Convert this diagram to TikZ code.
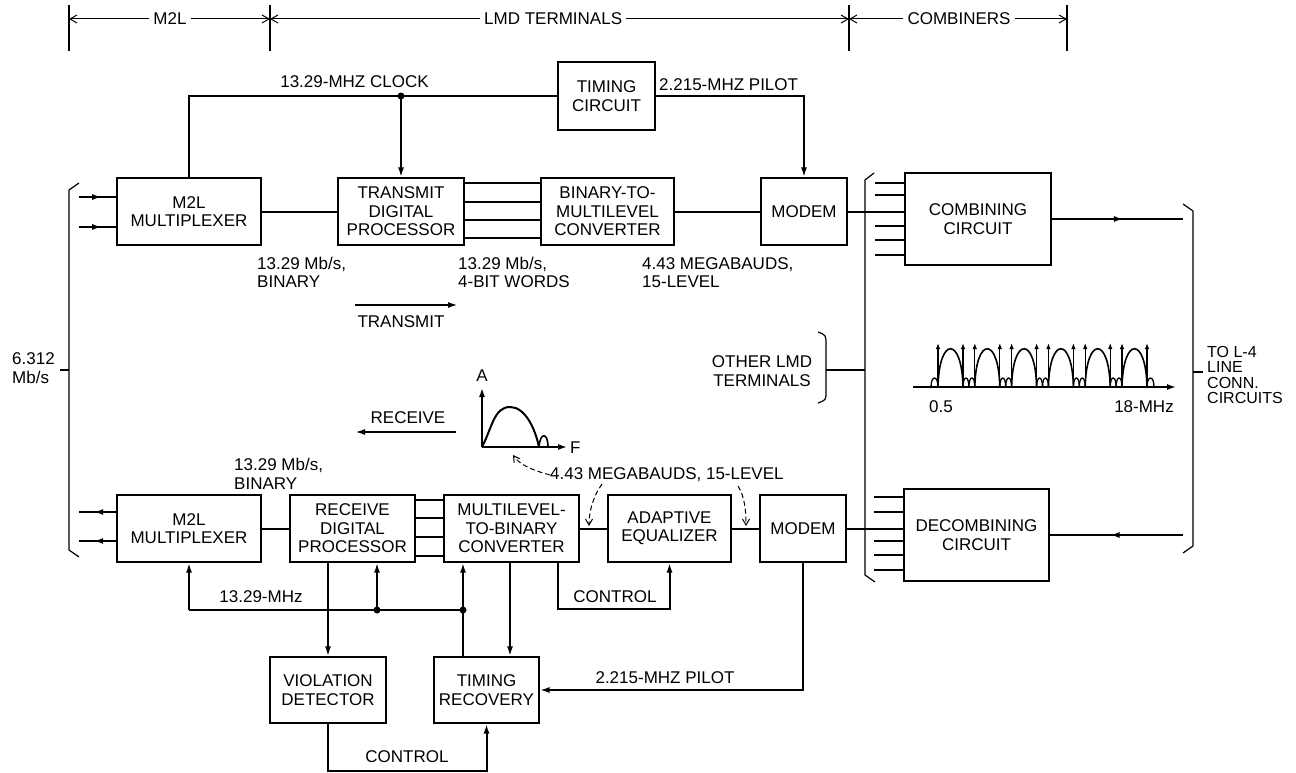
\documentclass[tikz,border=0pt]{standalone}
\usepackage{fontspec}
\setmainfont{Liberation Sans}
\usetikzlibrary{arrows.meta,decorations.markings,calc}
\begin{document}
\begin{tikzpicture}[x=1pt,y=-1pt,
  every node/.style={font=\fontsize{17}{18.5}\selectfont, inner sep=0pt},
  box/.style={draw, line width=1.2pt, align=center},
  conn/.style={line width=2pt},
  arr/.style={conn,-{Latex[length=10pt,width=6pt]}},
  thinl/.style={line width=1.2pt},
  hdr/.style={line width=1pt,-{Straight Barb[length=7pt,width=8pt]}},
  lbl/.style={align=left, anchor=west},
  dot/.style={circle, fill, inner sep=0pt, minimum size=7pt},
  midarr/.style={conn, postaction={decorate}, decoration={markings, mark=at position #1 with {\arrow{Latex[length=10pt,width=6pt]}}}},
  dasharr/.style={line width=1pt, dash pattern=on 5pt off 3pt, -{Straight Barb[length=6pt,width=7pt]}}
]
\useasboundingbox (0,0) rectangle (1296,773);

% ---------- header ----------
\coordinate (t1) at (69,19);
\coordinate (t2) at (270,19);
\coordinate (t3) at (849,19);
\coordinate (t4) at (1067,19);
\foreach \x in {69,270,849,1067} \draw[thinl] (\x,5) -- (\x,51);
\node (hm2l) at (170,19) {M2L};
\node[anchor=west] (hlmd) at (484,19) {LMD TERMINALS};
\node (hcomb) at (959,19) {COMBINERS};
\draw[hdr] ($(hm2l.west)+(-4,0)$) -- (t1);
\draw[hdr] ($(hm2l.east)+(4,0)$) -- (t2);
\draw[hdr] ($(hlmd.west)+(-4,0)$) -- (t2);
\draw[hdr] ($(hlmd.east)+(4,0)$) -- (t3);
\draw[hdr] ($(hcomb.west)+(-4,0)$) -- (t3);
\draw[hdr] ($(hcomb.east)+(4,0)$) -- (t4);

% ---------- top row ----------
\node[box, minimum width=144, minimum height=67] (m2lt) at (189,211.5) {M2L\\MULTIPLEXER};
\node[box, minimum width=126, minimum height=67] (tdp) at (401,211.5) {TRANSMIT\\DIGITAL\\PROCESSOR};
\node[box, minimum width=133, minimum height=67] (btm) at (607.5,211.5) {BINARY-TO-\\MULTILEVEL\\CONVERTER};
\node[box, minimum width=86, minimum height=67] (modt) at (804,211.5) {MODEM};
\node[box, minimum width=97, minimum height=68] (timing) at (606.5,96) {TIMING\\CIRCUIT};
\node[box, minimum width=146, minimum height=92] (comb) at (978,219) {COMBINING\\CIRCUIT};

\node (clkl) at (354.5,82) {13.29-MHZ CLOCK};
\node[anchor=west] (pilt) at (659,85) {2.215-MHZ PILOT};
\node[dot] (clk) at (tdp.north |- timing.west) {};
\draw[conn] (m2lt.north) |- (timing.west);
\draw[arr] (clk.center) -- (tdp.north);
\draw[arr] (timing.east) -| (modt.north);

\draw[conn] (m2lt) -- (tdp);
\foreach \y in {183,202,220,238} \draw[conn] (tdp.east |- 0,\y) -- (btm.west |- 0,\y);
\draw[conn] (btm) -- (modt);
\draw[conn] (modt.east) -- (modt.east -| comb.west);
\foreach \y in {183,195,226,240,255} \draw[conn] (875,\y) -- (comb.west |- 0,\y);

\coordinate (in1) at (79,197);
\coordinate (in2) at (79,227);
\draw[midarr=0.62] (in1) -- (in1 -| m2lt.west);
\draw[midarr=0.62] (in2) -- (in2 -| m2lt.west);

\node[lbl] (r1) at (257,272.5) {13.29 Mb/s,\\BINARY};
\node[lbl] (r2) at (458,272.5) {13.29 Mb/s,\\4-BIT WORDS};
\node[lbl] (r3) at (642,272.5) {4.43 MEGABAUDS,\\15-LEVEL};

\coordinate (txa) at (355,305);
\coordinate (txb) at (458,305);
\draw[arr] (txa) -- (txb);
\node (txl) at (401,322) {TRANSMIT};

\coordinate (rxa) at (456,432);
\coordinate (rxb) at (355,432);
\draw[arr] (rxa) -- (rxb);
\node (rxl) at (408,418) {RECEIVE};

% ---------- brackets ----------
\draw[thinl] (79,183) -- (69,190) -- (69,550) -- (79,557);
\draw[thinl] (60,370) -- (69,370);
\node[lbl] (rate) at (12,368) {6.312\\Mb/s};

\draw[thinl] (874,173) -- (865,180) -- (865,575) -- (875,582);
\draw[thinl] (818,332) .. controls (826,335) .. (826,345) -- (826,392) .. controls (826,400) .. (818,403);
\draw[thinl] (826,370) -- (865,370);
\node[align=center] (oth) at (762,371) {OTHER LMD\\TERMINALS};

\draw[thinl] (1183,204) -- (1193,211) -- (1193,546) -- (1183,553);
\draw[thinl] (1193,372) -- (1203,372);
\node[lbl, font=\fontsize{16}{15.5}\selectfont] (tol4) at (1207,375) {TO L-4\\LINE\\CONN.\\CIRCUITS};

\coordinate (outR) at (1183,219);
\coordinate (inR) at (1183,535);
\draw[midarr=0.55] (comb.east) -- (outR);

% ---------- line spectrum ----------
\draw[line width=1.5pt,-{Latex[length=9pt,width=6pt]}] (913,387) -- (1176,387);
\foreach \i in {0,...,5} {
  \pgfmathsetmacro\a{938+36.8*\i}
  \pgfmathsetmacro\b{\a+25}
  \draw[line width=1.6pt] (\a,387) .. controls (\a+1,336) and (\b-1,336) .. (\b,387);
  \draw[line width=1.2pt,-{Latex[length=6pt,width=4.5pt]}] (\a,387) -- (\a,343);
  \draw[line width=1.2pt,-{Latex[length=6pt,width=4.5pt]}] (\b,387) -- (\b,343);
}
\foreach \i in {0,...,4} {
  \pgfmathsetmacro\b{963+36.8*\i}
  \pgfmathsetmacro\m{\b+5.9}
  \pgfmathsetmacro\c{\b+11.8}
  \draw[line width=1.3pt] (\b,387) .. controls (\b,375) and (\m,375) .. (\m,387);
  \draw[line width=1.3pt] (\m,387) .. controls (\m,375) and (\c,375) .. (\c,387);
}
\draw[line width=1.3pt] (931,387) .. controls (931,375) and (938,375) .. (938,387);
\draw[line width=1.3pt] (1147,387) .. controls (1147,375) and (1154,375) .. (1154,387);
\node (f05) at (941,407) {0.5};
\node (f18) at (1144,407) {18-MHz};

% ---------- small spectrum ----------
\coordinate (org) at (482,447);
\draw[line width=1.5pt,-{Latex[length=9pt,width=6pt]}] (org) -- (482,388);
\draw[line width=1.5pt,-{Latex[length=9pt,width=6pt]}] (org) -- (567,447);
\node (axA) at (482,376) {A};
\node[anchor=west] (axF) at (570,448) {F};
\draw[line width=2pt] (org) .. controls (492,428) and (494,407) .. (510,407) .. controls (525,407) and (535,428) .. (539,447);
\draw[line width=1.6pt] (539,447) .. controls (540,432) and (548,432) .. (548,447);

% ---------- bottom row ----------
\node[box, minimum width=144, minimum height=67] (m2lb) at (189,528.5) {M2L\\MULTIPLEXER};
\node[box, minimum width=125, minimum height=67] (rdp) at (352.5,528.5) {RECEIVE\\DIGITAL\\PROCESSOR};
\node[box, minimum width=135, minimum height=67] (mtb) at (511.5,528.5) {MULTILEVEL-\\TO-BINARY\\CONVERTER};
\node[box, minimum width=123, minimum height=67] (ae) at (669.5,528.5) {ADAPTIVE\\EQUALIZER};
\node[box, minimum width=86, minimum height=67] (modb) at (803,528.5) {MODEM};
\node[box, minimum width=145, minimum height=92] (decomb) at (976.5,535) {DECOMBINING\\CIRCUIT};
\node[box, minimum width=116, minimum height=66] (vd) at (328,690) {VIOLATION\\DETECTOR};
\node[box, minimum width=105, minimum height=66] (tr) at (486.5,690) {TIMING\\RECOVERY};

\draw[conn] (m2lb) -- (rdp);
\foreach \y in {500,518,537,556} \draw[conn] (rdp.east |- 0,\y) -- (mtb.west |- 0,\y);
\draw[conn] (mtb) -- (ae);
\draw[conn] (ae) -- (modb);
\draw[conn] (modb.east) -- (modb.east -| decomb.west);
\foreach \y in {497,512,541,555,570} \draw[conn] (874,\y) -- (decomb.west |- 0,\y);
\draw[midarr=0.55] (inR) -- (decomb.east);

\coordinate (out1) at (79,512);
\coordinate (out2) at (79,541);
\draw[midarr=0.62] (out1 -| m2lb.west) -- (out1);
\draw[midarr=0.62] (out2 -| m2lb.west) -- (out2);

\node[lbl] (r4) at (234,474) {13.29 Mb/s,\\BINARY};

% clock bus
\coordinate (busL) at (m2lb.south |- 0,610);
\node[dot] (d1) at (377,610) {};
\node[dot] (d2) at (463,610) {};
\draw[conn] (busL) -- (d2.center);
\draw[arr] (busL) -- (m2lb.south);
\draw[arr] (d1.center) -- (d1 |- rdp.south);
\draw[arr] (tr.north -| d2) -- (mtb.south -| d2);
\node (busl) at (261,597) {13.29-MHz};

\draw[arr] (rdp.south -| vd.north) -- (vd.north);
\draw[arr] (mtb.south -| 510,0) -- (tr.north -| 510,0);
\draw[arr] (vd.south) -- ++(0,47) -| (tr.south);
\node (ctl1) at (407,757) {CONTROL};
\draw[arr] (mtb.south -| 558,0) -- (558,609) -| (ae.south);
\node (ctl2) at (615,597) {CONTROL};
\draw[arr] (modb.south) |- (tr.east);
\node (pilb) at (665,678) {2.215-MHZ PILOT};

% 4.43 MB label with dashed pointers
\node[anchor=west] (mb) at (550,475) {4.43 MEGABAUDS, 15-LEVEL};
\draw[dasharr] (mb.west) .. controls (532,470) and (520,465) .. (513,455);
\draw[dasharr] (602,484) .. controls (594,495) and (589,510) .. (589,526);
\draw[dasharr] (738,486) .. controls (745,497) and (746,512) .. (746,526);
\end{tikzpicture}
\end{document}
